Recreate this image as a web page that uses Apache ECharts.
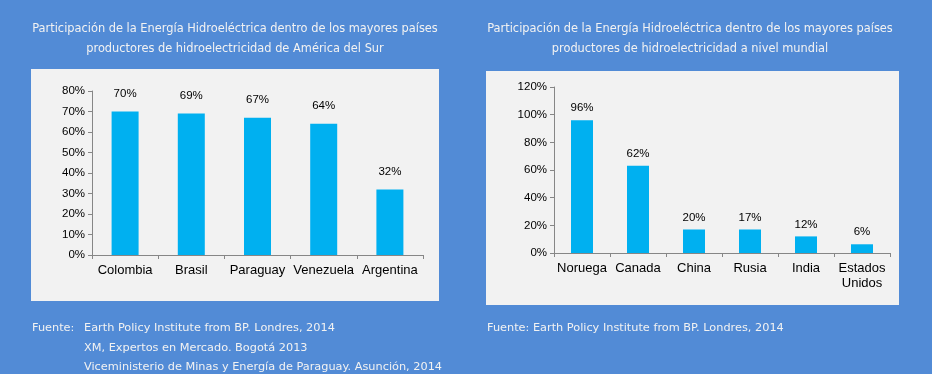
<!DOCTYPE html>
<html><head><meta charset="utf-8">
<script src="https://cdn.jsdelivr.net/npm/echarts@6/dist/echarts.min.js"></script>
<style>html,body{margin:0;padding:0;background:#528bd6;}#c{width:932px;height:374px;}</style>
</head><body><div id="c"></div>
<script>
const catsSA = ['Colombia','Brasil','Paraguay','Venezuela','Argentina'];
const valsSA = [0.70, 0.69, 0.67, 0.64, 0.32];
const labelsSA = ['70%','69%','67%','64%','32%'];
const ticksSA = {min:0, max:0.8, interval:0.1};

const catsW = ['Noruega','Canada','China','Rusia','India','Estados\nUnidos'];
const valsW = [0.96, 0.63, 0.17, 0.17, 0.12, 0.063];
const labelsW = ['96%','62%','20%','17%','12%','6%'];
const ticksW = {min:0, max:1.2, interval:0.2};

const titleSA = 'Participación de la Energía Hidroeléctrica dentro de los mayores países\nproductores de hidroelectricidad de América del Sur';
const titleW = 'Participación de la Energía Hidroeléctrica dentro de los mayores países\nproductores de hidroelectricidad a nivel mundial';
const fuenteLabel = 'Fuente:';
const fuenteSA = ['Earth Policy Institute from BP. Londres, 2014','XM, Expertos en Mercado. Bogotá 2013','Viceministerio de Minas y Energía de Paraguay. Asunción, 2014'];
const fuenteW = 'Fuente: Earth Policy Institute from BP. Londres, 2014';

const chart = echarts.init(document.getElementById('c'));
const axisCol = '#868686';
const titleFont = {color:'#f2f2f2', fontFamily:'DejaVu Sans', fontSize:11.4, lineHeight:20};
const footFont = '11.3px "DejaVu Sans"';
function yAxis(idx, t){
  return {type:'value', gridIndex:idx, min:t.min, max:t.max, interval:t.interval,
    axisLine:{show:true, lineStyle:{color:axisCol}}, axisTick:{show:true, length:4, lineStyle:{color:axisCol}},
    splitLine:{show:false},
    axisLabel:{formatter:v=>Math.round(v*100)+'%', color:'#000', fontFamily:'Liberation Sans', fontSize:11.5, margin:7}};
}
function xAxis(idx, cats){
  return {type:'category', gridIndex:idx, data:cats, boundaryGap:true,
    axisLine:{show:true, lineStyle:{color:axisCol}}, axisTick:{show:true, length:4, lineStyle:{color:axisCol}},
    axisLabel:{color:'#000', fontFamily:'Liberation Sans', fontSize:13, margin:8, lineHeight:15, interval:0}};
}
const footerTexts = [];
footerTexts.push({type:'text', left:32, top:323, style:{text:fuenteLabel, fill:'#f2f2f2', font:footFont}});
fuenteSA.forEach((s,i)=>footerTexts.push({type:'text', left:84, top:323+i*19.5, style:{text:s, fill:'#f2f2f2', font:footFont}}));
footerTexts.push({type:'text', left:487, top:323, style:{text:fuenteW, fill:'#f2f2f2', font:footFont}});

chart.setOption({
  backgroundColor:'#528bd6',
  animation:false,
  title:[
    {text:titleSA, left:230, top:14, textAlign:'center', textStyle:Object.assign({fontWeight:'normal'}, titleFont)},
    {text:titleW, left:685, top:14, textAlign:'center', textStyle:Object.assign({fontWeight:'normal'}, titleFont)}
  ],
  graphic:[
    {type:'rect', shape:{x:31, y:69, width:408, height:232}, style:{fill:'#f2f2f2'}, z:-10},
    {type:'rect', shape:{x:486, y:71, width:413, height:234}, style:{fill:'#f2f2f2'}, z:-10}
  ].concat(footerTexts),
  grid:[
    {left:92, right:509, top:91, bottom:119},
    {left:554, right:42, top:87, bottom:121}
  ],
  xAxis:[xAxis(0, catsSA), xAxis(1, catsW)],
  yAxis:[yAxis(0, ticksSA), yAxis(1, ticksW)],
  series:[
    {type:'bar', xAxisIndex:0, yAxisIndex:0, data:valsSA, barWidth:27, itemStyle:{color:'#00b0f0'},
     label:{show:true, position:'top', distance:12, formatter:p=>labelsSA[p.dataIndex], color:'#000', fontFamily:'Liberation Sans', fontSize:11.5}},
    {type:'bar', xAxisIndex:1, yAxisIndex:1, data:valsW, barWidth:22, itemStyle:{color:'#00b0f0'},
     label:{show:true, position:'top', distance:6, formatter:p=>labelsW[p.dataIndex], color:'#000', fontFamily:'Liberation Sans', fontSize:11.5}}
  ]
});
</script></body></html>
